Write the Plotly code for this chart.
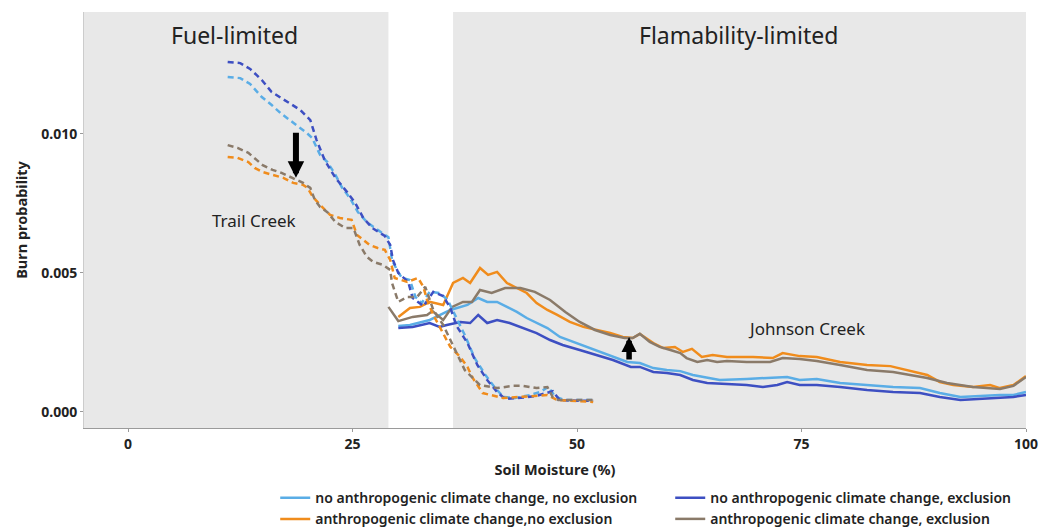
import plotly.graph_objects as go

# ---------------- data ----------------
# Trail Creek (dashed)
tc_noacc_noexcl_x = [11.1, 12.5, 13.6, 14.9, 16.0, 17.1, 18.3, 19.9, 20.5, 21.4, 22.2, 23.1, 23.8, 24.7, 25.6, 26.6, 27.8, 29.0, 29.4, 29.95, 30.5, 31.4, 32.0, 32.7, 33.6, 34.7, 35.6, 36.4, 37.5, 38.6, 39.8, 40.9, 41.8, 43.1, 44.8, 45.9, 46.8, 47.6, 48.7, 50.3, 51.8]
tc_noacc_noexcl_y = [0.01205, 0.01201, 0.01180, 0.01133, 0.01104, 0.01072, 0.01043, 0.01004, 0.00986, 0.00924, 0.00899, 0.00853, 0.00809, 0.00770, 0.00719, 0.00683, 0.00655, 0.00629, 0.00547, 0.00511, 0.00482, 0.00475, 0.00414, 0.00392, 0.00432, 0.00428, 0.00403, 0.00349, 0.00277, 0.00194, 0.00133, 0.00086, 0.00054, 0.00050, 0.00061, 0.00072, 0.00090, 0.00054, 0.00043, 0.00043, 0.00043]

tc_noacc_excl_x = [11.1, 12.5, 13.6, 14.9, 16.0, 17.5, 19.2, 20.3, 21.0, 21.9, 23.1, 24.4, 25.3, 26.2, 27.2, 28.6, 29.2, 29.5, 30.1, 31.2, 31.7, 32.9, 34.0, 35.1, 35.9, 36.6, 37.8, 38.9, 40.0, 41.1, 42.0, 43.1, 44.2, 45.5, 46.7, 47.3, 48.1, 49.8, 51.8]
tc_noacc_excl_y = [0.01259, 0.01255, 0.01234, 0.01194, 0.01151, 0.01122, 0.01086, 0.01050, 0.00978, 0.00906, 0.00842, 0.00791, 0.00752, 0.00698, 0.00662, 0.00633, 0.00601, 0.00547, 0.00500, 0.00468, 0.00410, 0.00381, 0.00432, 0.00417, 0.00374, 0.00309, 0.00248, 0.00169, 0.00115, 0.00072, 0.00047, 0.00050, 0.00052, 0.00058, 0.00070, 0.00075, 0.00042, 0.00040, 0.00040]

tc_acc_noexcl_x = [11.1, 12.2, 13.4, 14.1, 15.0, 16.1, 17.3, 18.4, 19.5, 20.0, 20.6, 21.4, 22.5, 23.6, 24.9, 25.5, 26.2, 26.9, 27.8, 28.6, 29.2, 29.5, 29.7, 31.1, 32.3, 32.9, 33.3, 34.0, 35.1, 35.9, 37.0, 37.8, 38.4, 39.5, 41.8, 44.0, 46.7, 47.8, 49.8, 51.8]
tc_acc_noexcl_y = [0.00917, 0.00914, 0.00899, 0.00878, 0.00863, 0.00853, 0.00842, 0.00824, 0.00817, 0.00806, 0.00773, 0.00745, 0.00709, 0.00698, 0.00691, 0.00637, 0.00619, 0.00601, 0.00590, 0.00583, 0.00547, 0.00511, 0.00482, 0.00468, 0.00482, 0.00450, 0.00403, 0.00349, 0.00284, 0.00234, 0.00198, 0.00162, 0.00122, 0.00068, 0.00050, 0.00054, 0.00061, 0.00043, 0.00040, 0.00036]

tc_acc_excl_x = [11.1, 12.2, 13.4, 14.4, 15.0, 16.1, 17.1, 18.3, 19.5, 20.3, 20.8, 21.4, 22.2, 23.1, 24.2, 25.1, 25.8, 26.6, 27.3, 28.4, 29.2, 29.4, 30.1, 31.1, 32.2, 33.1, 34.0, 35.1, 36.4, 37.5, 39.2, 41.1, 42.9, 44.0, 45.5, 46.7, 47.3, 47.9, 49.8, 51.8]
tc_acc_excl_y = [0.00960, 0.00950, 0.00932, 0.00906, 0.00888, 0.00871, 0.00860, 0.00842, 0.00824, 0.00806, 0.00763, 0.00737, 0.00719, 0.00683, 0.00662, 0.00662, 0.00601, 0.00558, 0.00540, 0.00529, 0.00511, 0.00464, 0.00396, 0.00414, 0.00414, 0.00450, 0.00367, 0.00313, 0.00223, 0.00151, 0.00097, 0.00086, 0.00094, 0.00094, 0.00086, 0.00090, 0.00054, 0.00043, 0.00043, 0.00043]

# Johnson Creek (solid)
jc_noacc_noexcl_x = [30.1, 31.4, 33.6, 35.3, 35.9, 37.8, 39.0, 40.0, 41.1, 42.2, 43.3, 44.4, 45.5, 46.7, 48.1, 49.6, 51.1, 52.6, 54.0, 55.6, 57.0, 58.5, 60.0, 61.5, 62.9, 64.5, 65.9, 68.9, 71.8, 73.4, 74.8, 76.7, 79.3, 82.3, 85.2, 88.2, 90.4, 92.7, 94.9, 97.1, 98.6, 100.0]
jc_noacc_noexcl_y = [0.00309, 0.00313, 0.00331, 0.00356, 0.00367, 0.00385, 0.00410, 0.00396, 0.00396, 0.00378, 0.00360, 0.00338, 0.00320, 0.00302, 0.00270, 0.00252, 0.00234, 0.00216, 0.00198, 0.00180, 0.00176, 0.00158, 0.00151, 0.00147, 0.00133, 0.00122, 0.00115, 0.00119, 0.00122, 0.00126, 0.00115, 0.00119, 0.00104, 0.00097, 0.00090, 0.00086, 0.00068, 0.00054, 0.00058, 0.00061, 0.00061, 0.00072]

jc_noacc_excl_x = [30.1, 31.7, 33.6, 34.7, 35.5, 37.0, 38.1, 39.0, 40.0, 41.1, 42.5, 44.0, 45.5, 47.0, 48.4, 50.3, 52.2, 54.0, 56.0, 57.0, 58.5, 60.0, 61.5, 62.9, 64.5, 66.7, 68.9, 70.7, 72.3, 73.4, 74.8, 76.7, 79.3, 82.3, 85.2, 88.2, 90.4, 92.7, 94.9, 97.1, 98.6, 100.0]
jc_noacc_excl_y = [0.00302, 0.00306, 0.00320, 0.00306, 0.00313, 0.00324, 0.00320, 0.00349, 0.00320, 0.00331, 0.00320, 0.00302, 0.00284, 0.00259, 0.00241, 0.00223, 0.00205, 0.00187, 0.00162, 0.00162, 0.00144, 0.00140, 0.00133, 0.00115, 0.00104, 0.00101, 0.00097, 0.00090, 0.00097, 0.00108, 0.00097, 0.00097, 0.00090, 0.00079, 0.00072, 0.00068, 0.00054, 0.00043, 0.00047, 0.00050, 0.00054, 0.00061]

jc_acc_noexcl_x = [30.1, 31.4, 32.5, 33.6, 35.1, 36.2, 37.3, 38.1, 39.2, 40.1, 41.1, 42.2, 43.3, 44.4, 45.5, 46.7, 47.8, 49.2, 50.7, 52.2, 53.7, 55.1, 56.2, 57.0, 58.5, 59.6, 60.9, 61.8, 62.8, 63.9, 65.1, 66.7, 69.6, 71.8, 72.9, 74.8, 76.7, 79.3, 82.3, 84.9, 87.1, 89.0, 90.4, 91.9, 94.1, 96.0, 97.1, 98.6, 100.0]
jc_acc_noexcl_y = [0.00342, 0.00374, 0.00378, 0.00396, 0.00385, 0.00464, 0.00482, 0.00464, 0.00518, 0.00493, 0.00504, 0.00464, 0.00446, 0.00428, 0.00392, 0.00367, 0.00349, 0.00324, 0.00306, 0.00295, 0.00284, 0.00270, 0.00266, 0.00281, 0.00248, 0.00230, 0.00234, 0.00216, 0.00227, 0.00198, 0.00205, 0.00198, 0.00198, 0.00194, 0.00212, 0.00201, 0.00198, 0.00180, 0.00169, 0.00165, 0.00147, 0.00133, 0.00108, 0.00097, 0.00090, 0.00097, 0.00086, 0.00097, 0.00129]

jc_acc_excl_x = [29.0, 30.1, 31.7, 33.3, 33.9, 35.1, 36.1, 37.3, 38.3, 39.2, 40.5, 42.0, 43.7, 45.3, 47.0, 48.7, 50.3, 52.0, 53.7, 55.3, 56.2, 57.0, 58.1, 59.2, 60.4, 61.5, 62.2, 63.4, 64.5, 65.6, 66.7, 68.9, 71.5, 72.9, 74.8, 76.7, 79.3, 82.3, 85.2, 89.0, 91.2, 94.1, 97.1, 98.6, 100.0]
jc_acc_excl_y = [0.00378, 0.00327, 0.00342, 0.00349, 0.00363, 0.00331, 0.00378, 0.00396, 0.00396, 0.00439, 0.00428, 0.00446, 0.00446, 0.00432, 0.00403, 0.00360, 0.00324, 0.00295, 0.00277, 0.00266, 0.00266, 0.00281, 0.00252, 0.00234, 0.00223, 0.00212, 0.00194, 0.00180, 0.00187, 0.00180, 0.00183, 0.00180, 0.00180, 0.00194, 0.00191, 0.00183, 0.00169, 0.00151, 0.00144, 0.00122, 0.00104, 0.00090, 0.00083, 0.00094, 0.00126]

series_names = ["no anthropogenic climate change, no exclusion",
                "no anthropogenic climate change, exclusion",
                "anthropogenic climate change,no exclusion",
                "anthropogenic climate change, exclusion"]
series_colors = ["#5aade6", "#3d4fc2", "#f08c1c", "#8a7a69"]

x_ticks = [0, 25, 50, 75, 100]
y_ticks = [0.0, 0.005, 0.010]
x_range = [-4.9, 100]
y_range = [-0.000576, 0.014388]
fuel_limited = [-4.9, 29.0]
flam_limited = [36.2, 100]

# ---------------- figure ----------------
fig = go.Figure()

tc = [(tc_noacc_noexcl_x, tc_noacc_noexcl_y), (tc_noacc_excl_x, tc_noacc_excl_y),
      (tc_acc_noexcl_x, tc_acc_noexcl_y), (tc_acc_excl_x, tc_acc_excl_y)]
jc = [(jc_noacc_noexcl_x, jc_noacc_noexcl_y), (jc_noacc_excl_x, jc_noacc_excl_y),
      (jc_acc_noexcl_x, jc_acc_noexcl_y), (jc_acc_excl_x, jc_acc_excl_y)]

for i, (xs, ys) in enumerate(jc):
    fig.add_trace(go.Scatter(x=xs, y=ys, mode="lines", name=series_names[i],
                             legendgroup=str(i),
                             line=dict(color=series_colors[i], width=2.5)))
for i, (xs, ys) in enumerate(tc):
    fig.add_trace(go.Scatter(x=xs, y=ys, mode="lines", name=series_names[i],
                             legendgroup=str(i), showlegend=False,
                             line=dict(color=series_colors[i], width=2.5, dash="6px,4px")))

shade = "#e8e8e8"
for x0, x1 in (fuel_limited, flam_limited):
    fig.add_shape(type="rect", xref="x", yref="paper", x0=x0, x1=x1, y0=0, y1=1,
                  fillcolor=shade, line=dict(width=0), layer="below")

txt = dict(family="Noto Sans", color="#222222")
fig.add_annotation(x=11.9, y=1.0, xref="x", yref="paper", yanchor="top", yshift=-5,
                   text="Fuel-limited", showarrow=False, font=dict(size=23, **txt))
fig.add_annotation(x=68.0, y=1.0, xref="x", yref="paper", yanchor="top", yshift=-5,
                   text="Flamability-limited", showarrow=False, font=dict(size=23, **txt))
fig.add_annotation(x=14.0, y=0.00690, xref="x", yref="y", text="Trail Creek",
                   showarrow=False, font=dict(size=17, **txt))
fig.add_annotation(x=75.6, y=0.00302, xref="x", yref="y", text="Johnson Creek",
                   showarrow=False, font=dict(size=17, **txt))

# arrows
fig.add_annotation(x=18.7, y=0.00843, ax=18.7, ay=0.01010, xref="x", yref="y",
                   axref="x", ayref="y", text="", showarrow=True, arrowhead=2,
                   arrowsize=0.55, arrowwidth=6, arrowcolor="black")
fig.add_annotation(x=55.8, y=0.00270, ax=55.8, ay=0.00183, xref="x", yref="y",
                   axref="x", ayref="y", text="", showarrow=True, arrowhead=2,
                   arrowsize=0.55, arrowwidth=5.5, arrowcolor="black")

tickfont = dict(family="Noto Sans", size=14, color="#222222", weight="bold")
titlefont = dict(family="Noto Sans", size=14.5, color="#222222", weight="bold")
fig.update_xaxes(range=x_range, tickvals=x_ticks, showgrid=False, zeroline=False,
                 showline=True, linecolor="#9a9a9a", linewidth=1,
                 ticks="outside", ticklen=3, tickcolor="#9a9a9a", tickfont=tickfont,
                 title=dict(text="Soil Moisture (%)", standoff=13, font=titlefont))
fig.update_yaxes(range=y_range, tickvals=y_ticks, tickformat=".3f", showgrid=False,
                 zeroline=False, showline=True, linecolor="#cccccc", linewidth=1,
                 ticks="outside", ticklen=3, tickcolor="#9a9a9a", tickfont=tickfont,
                 title=dict(text="Burn probability", standoff=10, font=titlefont))

# the page body has an 8px margin, so the figure is sized to end at the window edge
fig.update_layout(
    width=1044, height=521,
    margin=dict(l=76, r=26, t=4, b=101, autoexpand=False),
    paper_bgcolor="white", plot_bgcolor="white",
    showlegend=True,
    legend=dict(orientation="h", x=0.203, xanchor="left", y=-0.13, yanchor="top",
                entrywidth=350, entrywidthmode="pixels", traceorder="normal",
                font=dict(family="Noto Sans", size=14, color="#222222", weight=600),
                bgcolor="rgba(0,0,0,0)", itemwidth=30, tracegroupgap=0),
)

fig.write_html("out.html")
